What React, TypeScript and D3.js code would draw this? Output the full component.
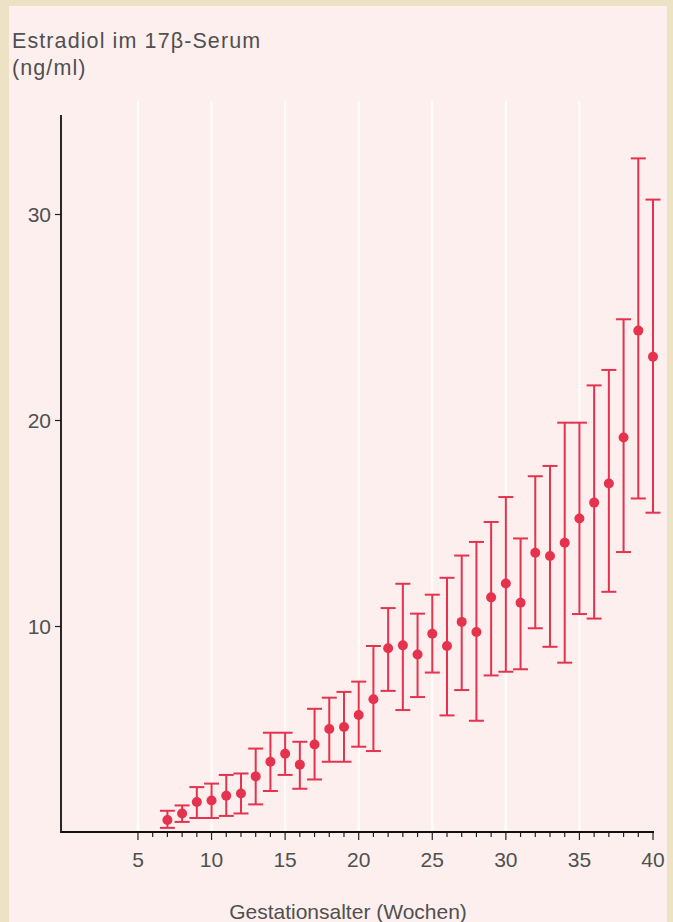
import React, { useRef, useEffect } from 'react';
import * as d3 from 'd3';

// Gestational week, mean estradiol and the range (ng/ml)
const WEEKS = [7, 8, 9, 10, 11, 12, 13, 14, 15, 16, 17, 18, 19, 20, 21, 22, 23, 24, 25, 26, 27, 28, 29, 30, 31, 32, 33, 34, 35, 36, 37, 38, 39, 40];
const MEAN = [0.58, 0.9, 1.46, 1.53, 1.76, 1.87, 2.7, 3.41, 3.8, 3.27, 4.25, 5.0, 5.1, 5.68, 6.44, 8.92, 9.06, 8.62, 9.62, 9.03, 10.2, 9.71, 11.39, 12.06, 11.13, 13.56, 13.4, 14.04, 15.22, 15.99, 16.92, 19.15, 24.34, 23.07];
const UPPER = [1.03, 1.29, 2.18, 2.35, 2.77, 2.84, 4.05, 4.82, 4.82, 4.38, 5.98, 6.52, 6.8, 7.3, 9.03, 10.87, 12.05, 10.6, 11.52, 12.34, 13.42, 14.08, 15.05, 16.26, 14.25, 17.27, 17.77, 19.87, 19.87, 21.68, 22.43, 24.89, 32.7, 30.7];
const LOWER = [0.2, 0.49, 0.68, 0.68, 0.78, 0.9, 1.34, 1.99, 2.77, 2.1, 2.55, 3.41, 3.41, 4.14, 3.93, 6.85, 5.92, 6.55, 7.74, 5.66, 6.89, 5.4, 7.6, 7.78, 7.9, 9.89, 8.99, 8.22, 10.58, 10.36, 11.66, 13.59, 16.19, 15.5];

const X_TICKS = [5, 10, 15, 20, 25, 30, 35, 40];
const Y_TICKS = [10, 20, 30];

const TITLE_LINES = ['Estradiol im 17β-Serum', '(ng/ml)'];
const X_LABEL = 'Gestationsalter (Wochen)';

const RED = '#e5324f';
const FONT = '"Liberation Sans", Arial, sans-serif';
const TEXT = '#505050';

const App: React.FC = () => {
    const svgRef = useRef<SVGSVGElement | null>(null);

    useEffect(() => {
        if (!svgRef.current) return;
        const width = 673, height = 922;
        const svg = d3.select(svgRef.current).attr('width', width).attr('height', height);
        svg.selectAll('*').remove();

        const axisX = 61;
        const x = d3.scaleLinear().domain([0, 40]).range([64.4, 653]);
        const y = d3.scaleLinear().domain([0, 35]).range([832, 111]);

        // paper + page frame
        svg.append('rect').attr('width', width).attr('height', height).attr('fill', '#ede3c4');
        svg.append('rect').attr('x', 9).attr('y', 6).attr('width', 658).attr('height', height - 6).attr('fill', '#fcefed');

        // faint white grid lines
        svg.append('g').selectAll('line')
            .data(X_TICKS.filter(d => d < 40))
            .join('line')
            .attr('x1', d => x(d)).attr('x2', d => x(d))
            .attr('y1', y(35.5)).attr('y2', y(0))
            .attr('stroke', '#ffffff').attr('stroke-width', 2.5).attr('opacity', 0.75);

        // title
        svg.append('text')
            .attr('font-family', FONT).attr('font-size', 21.5).attr('fill', TEXT)
            .attr('letter-spacing', 1.1)
            .selectAll('tspan')
            .data(TITLE_LINES)
            .join('tspan')
            .attr('x', 12).attr('y', (_, i) => 48 + i * 27)
            .text(d => d);

        // y axis
        const yAxis = svg.append('g').attr('transform', `translate(${axisX},0)`)
            .call(d3.axisLeft(y).tickValues(Y_TICKS).tickSize(6).tickPadding(4).tickFormat(d3.format('d')));
        yAxis.select('.domain').remove();
        yAxis.selectAll('line').attr('stroke', '#222').attr('stroke-width', 1.2);
        yAxis.selectAll('text').attr('font-family', FONT).attr('font-size', 21).attr('fill', TEXT).attr('dy', '0.36em');
        svg.append('line')
            .attr('x1', axisX).attr('x2', axisX).attr('y1', y(34.8)).attr('y2', y(0) + 1)
            .attr('stroke', '#111').attr('stroke-width', 1.8);

        // x axis: weekly minor ticks, labelled every 5
        const minor = d3.range(5, 41);
        svg.append('g').selectAll('line')
            .data(minor)
            .join('line')
            .attr('x1', d => x(d)).attr('x2', d => x(d))
            .attr('y1', y(0)).attr('y2', d => y(0) + (d % 5 === 0 ? 8 : 5))
            .attr('stroke', '#222').attr('stroke-width', 1.2);
        svg.append('line')
            .attr('x1', axisX).attr('x2', x(40) + 1).attr('y1', y(0)).attr('y2', y(0))
            .attr('stroke', '#111').attr('stroke-width', 1.8);
        svg.append('g').selectAll('text')
            .data(X_TICKS)
            .join('text')
            .attr('x', d => x(d)).attr('y', y(0) + 35)
            .attr('text-anchor', 'middle')
            .attr('font-family', FONT).attr('font-size', 21).attr('fill', TEXT)
            .text(d => d);

        svg.append('text')
            .attr('x', 348).attr('y', 919)
            .attr('text-anchor', 'middle')
            .attr('font-family', FONT).attr('font-size', 21).attr('fill', TEXT)
            .text(X_LABEL);

        // error bars + means
        const rows = WEEKS.map((w, i) => ({ w, m: MEAN[i], hi: UPPER[i], lo: LOWER[i] }));
        const g = svg.append('g');
        g.selectAll('line.bar')
            .data(rows)
            .join('line')
            .attr('class', 'bar')
            .attr('x1', d => x(d.w)).attr('x2', d => x(d.w))
            .attr('y1', d => y(d.hi)).attr('y2', d => y(d.lo))
            .attr('stroke', RED).attr('stroke-width', 2);
        const cap = 7.5;
        ['hi', 'lo'].forEach(key => {
            g.selectAll(`line.cap-${key}`)
                .data(rows)
                .join('line')
                .attr('class', `cap-${key}`)
                .attr('x1', d => x(d.w) - cap).attr('x2', d => x(d.w) + cap)
                .attr('y1', d => y((d as any)[key])).attr('y2', d => y((d as any)[key]))
                .attr('stroke', RED).attr('stroke-width', 2);
        });
        g.selectAll('circle')
            .data(rows)
            .join('circle')
            .attr('cx', d => x(d.w)).attr('cy', d => y(d.m))
            .attr('r', 5)
            .attr('fill', RED);
    }, []);

    return <svg ref={svgRef} style={{ position: 'absolute', left: 0, top: 0 }}></svg>;
};

export default App;
